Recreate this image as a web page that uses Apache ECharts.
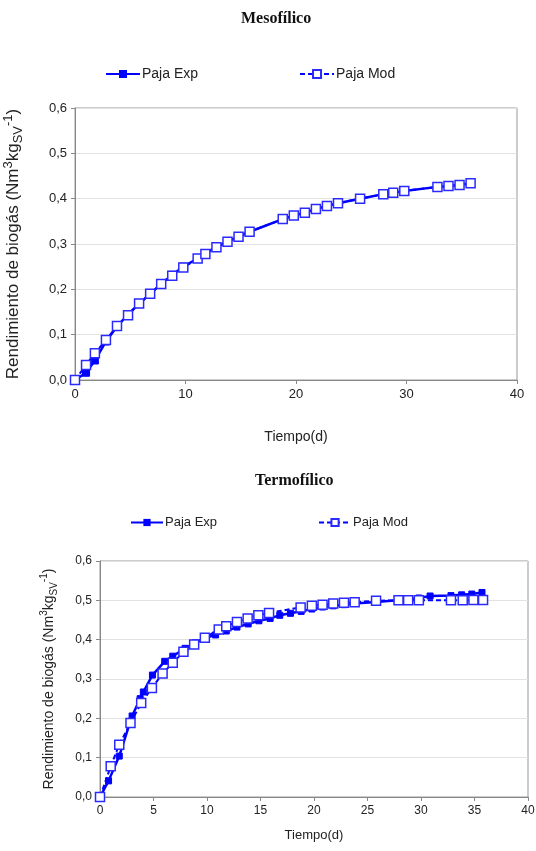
<!DOCTYPE html>
<html>
<head>
<meta charset="utf-8">
<script src="https://cdn.jsdelivr.net/npm/echarts@6/dist/echarts.min.js"></script>
<style>
  html, body { margin: 0; padding: 0; background: #fff; }
  #chart { width: 536px; height: 851px; }
</style>
</head>
<body>
<div id="chart"></div>
<script>
// Mesofílico
const mesoDias = [0, 1, 1.8, 2.8, 3.8, 4.8, 5.8, 6.8, 7.8, 8.8, 9.8, 11.1, 11.8, 12.8, 13.8, 14.8, 15.8, 18.8, 19.8, 20.8, 21.8, 22.8, 23.8, 25.8, 27.9, 28.8, 29.8, 32.8, 33.8, 34.8, 35.8]
const mesoExp = [0, 0.016, 0.043, 0.085, 0.118, 0.145, 0.168, 0.19, 0.212, 0.232, 0.25, 0.268, 0.28, 0.293, 0.305, 0.316, 0.327, 0.355, 0.363, 0.369, 0.377, 0.384, 0.39, 0.4, 0.41, 0.413, 0.417, 0.426, 0.428, 0.43, 0.434]
const mesoMod = [0, 0.033, 0.059, 0.088, 0.119, 0.143, 0.169, 0.19, 0.212, 0.23, 0.248, 0.268, 0.278, 0.293, 0.305, 0.316, 0.327, 0.355, 0.363, 0.369, 0.377, 0.384, 0.39, 0.4, 0.41, 0.413, 0.417, 0.426, 0.428, 0.43, 0.434]

// Termofílico
const termoDiasExp = [0, 0.8, 1.8, 3.0, 3.75, 4.05, 4.9, 6.05, 6.8, 7.95, 8.9, 9.8, 10.8, 11.8, 12.8, 13.85, 14.85, 15.9, 16.8, 17.8, 18.8, 19.8, 20.8, 21.8, 22.8, 23.8, 25.8, 27.8, 28.8, 29.8, 30.85, 32.8, 33.8, 34.75, 35.7]
const termoExp = [0, 0.041, 0.104, 0.206, 0.25, 0.267, 0.31, 0.345, 0.358, 0.378, 0.392, 0.405, 0.412, 0.422, 0.432, 0.44, 0.448, 0.454, 0.462, 0.467, 0.472, 0.478, 0.483, 0.486, 0.489, 0.492, 0.496, 0.5, 0.503, 0.506, 0.511, 0.512, 0.514, 0.516, 0.52]
const termoDiasMod = [0, 1, 1.8, 2.85, 3.85, 4.85, 5.85, 6.8, 7.8, 8.8, 9.8, 11.1, 11.8, 12.8, 13.8, 14.8, 15.8, 18.75, 19.8, 20.8, 21.8, 22.8, 23.8, 25.8, 27.9, 28.8, 29.8, 32.8, 33.9, 34.9, 35.8]
const termoMod = [0, 0.078, 0.133, 0.188, 0.239, 0.277, 0.314, 0.341, 0.369, 0.388, 0.405, 0.426, 0.434, 0.445, 0.454, 0.462, 0.468, 0.482, 0.486, 0.489, 0.492, 0.494, 0.495, 0.499, 0.5, 0.5, 0.5, 0.5, 0.5, 0.501, 0.501]

const yTicks = ['0,0', '0,1', '0,2', '0,3', '0,4', '0,5', '0,6']
const nombres = { mExp: 'Paja Exp', mMod: 'Paja Mod', tExp: 'Paja Exp', tMod: 'Paja Mod' }

const azul = '#0000ff'
const sans = 'Liberation Sans, Arial, sans-serif'
const serif = 'Liberation Serif, Times New Roman, serif'

const pares = (xs, ys) => xs.map((x, i) => [x, ys[i]])

// nombre del eje Y con sub/superíndices
const yName = size => ({
  name: '{b|Rendimiento de biogás (Nm}{sup|3}{b|kg}{sub|SV}{sup|-1}{b|)}',
  nameTextStyle: {
    rich: {
      b: { fontSize: size, color: '#222', fontFamily: sans, lineHeight: size + 6 },
      sup: { fontSize: size - 4, color: '#222', fontFamily: sans, verticalAlign: 'top', lineHeight: size + 6 },
      sub: { fontSize: size - 4, color: '#222', fontFamily: sans, verticalAlign: 'bottom', lineHeight: size + 6 }
    }
  }
})

const ejeX = (gridIndex, interval, size, gap) => ({
  type: 'value',
  gridIndex,
  min: 0,
  max: 40,
  interval,
  name: 'Tiempo(d)',
  nameLocation: 'middle',
  nameGap: gap,
  nameTextStyle: { color: '#222', fontSize: size + 1, fontFamily: sans },
  axisLine: { lineStyle: { color: '#888' } },
  axisTick: { show: true, length: 4, lineStyle: { color: '#888' } },
  axisLabel: { color: '#222', fontSize: size, fontFamily: sans, margin: 8 },
  splitLine: { show: false }
})

const ejeY = (gridIndex, size, nameSize, gap) => Object.assign({
  type: 'value',
  gridIndex,
  min: 0,
  max: 0.6,
  interval: 0.1,
  nameLocation: 'middle',
  nameGap: gap,
  axisLine: { show: true, lineStyle: { color: '#888' } },
  axisTick: { show: true, length: 4, lineStyle: { color: '#888' } },
  axisLabel: {
    color: '#222',
    fontSize: size,
    fontFamily: sans,
    margin: 8,
    formatter: v => yTicks[Math.round(v * 10)]
  },
  splitLine: { lineStyle: { color: '#e2e2e2' } }
}, yName(nameSize))

const serieExp = (name, idx, data, size) => ({
  name,
  type: 'line',
  xAxisIndex: idx,
  yAxisIndex: idx,
  data,
  symbol: 'rect',
  symbolSize: size,
  showSymbol: true,
  lineStyle: { color: azul, width: 2.5 },
  itemStyle: { color: azul, borderColor: azul },
  z: 2
})

const serieMod = (name, idx, data, size) => ({
  name,
  type: 'line',
  xAxisIndex: idx,
  yAxisIndex: idx,
  data,
  symbol: 'rect',
  symbolSize: size,
  showSymbol: true,
  lineStyle: { color: azul, width: 2, type: [5, 3] },
  itemStyle: { color: '#fff', borderColor: '#2a2aff', borderWidth: 1.5 },
  z: 3
})

const chart = echarts.init(document.getElementById('chart'))

const option = {
  animation: false,
  backgroundColor: '#fff',
  title: [
    {
      text: 'Mesofílico',
      left: 236,
      top: 6,
      textStyle: { fontFamily: serif, fontSize: 16, fontWeight: 'bold', color: '#111' }
    },
    {
      text: 'Termofílico',
      left: 250,
      top: 468,
      textStyle: { fontFamily: serif, fontSize: 16, fontWeight: 'bold', color: '#111' }
    }
  ],
  legend: [
    {
      data: ['mExp', 'mMod'],
      left: 100,
      top: 62,
      itemGap: 101,
      itemWidth: 34,
      itemHeight: 10,
      formatter: n => nombres[n],
      textStyle: { color: '#222', fontSize: 14, fontFamily: sans, padding: [0, 0, 0, -3] }
    },
    {
      data: ['tExp', 'tMod'],
      left: 125,
      top: 511,
      itemGap: 101,
      itemWidth: 32,
      itemHeight: 9,
      formatter: n => nombres[n],
      textStyle: { color: '#222', fontSize: 13, fontFamily: sans, padding: [0, 0, 0, -3] }
    }
  ],
  grid: [
    { left: 75, top: 108, width: 442, height: 272, show: true, borderColor: '#999', borderWidth: 1, outerBoundsMode: 'none' },
    { left: 100, top: 561, width: 428, height: 236, show: true, borderColor: '#999', borderWidth: 1, outerBoundsMode: 'none' }
  ],
  xAxis: [ejeX(0, 10, 13, 50), ejeX(1, 5, 12, 32)],
  yAxis: [ejeY(0, 13, 17, 50), ejeY(1, 12, 14, 41)],
  series: [
    serieExp('mExp', 0, pares(mesoDias, mesoExp), 7),
    serieMod('mMod', 0, pares(mesoDias, mesoMod), 9),
    serieExp('tExp', 1, pares(termoDiasExp, termoExp), 6),
    serieMod('tMod', 1, pares(termoDiasMod, termoMod), 9)
  ]
}

chart.setOption(option)
</script>
</body>
</html>
